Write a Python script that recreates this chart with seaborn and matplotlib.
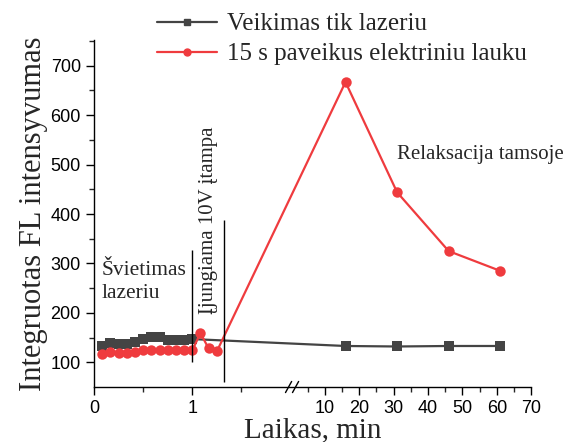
import numpy as np
import pandas as pd
import matplotlib
matplotlib.use("Agg")
import matplotlib.pyplot as plt
from matplotlib.lines import Line2D
import seaborn as sns

# data (time in minutes)
t_laser = [5/60, 10/60, 15/60, 20/60, 25/60, 30/60, 35/60, 40/60, 45/60, 50/60, 55/60, 1.0,
           16, 31, 46, 61]
fl_laser = [133, 139, 137, 138, 142, 148, 151, 151, 146, 145, 146, 147,
            133, 132, 133, 133]

t_field = [5/60, 10/60, 15/60, 20/60, 25/60, 30/60, 35/60, 40/60, 45/60, 50/60, 55/60, 1.0,
           65/60, 70/60, 75/60, 16, 31, 46, 61]
fl_field = [117, 121, 119, 119, 121, 124, 124, 124, 124, 124, 124, 124,
            159, 128, 122, 667, 444, 325, 285]

label_laser = "Veikimas tik lazeriu"
label_field = "15 s paveikus elektriniu lauku"

x_major = [0, 1, 10, 20, 30, 40, 50, 60, 70]
x_minor = [0.5, 1.5, 5, 15, 25, 35, 45, 55, 65]
y_major = [100, 200, 300, 400, 500, 600, 700]
y_minor = [150, 250, 350, 450, 550, 650, 750]

t_light_on = 1.0
t_voltage = 1.32

df = pd.concat([
    pd.DataFrame({"t": t_laser, "fl": fl_laser, "serija": label_laser}),
    pd.DataFrame({"t": t_field, "fl": fl_field, "serija": label_field}),
])

sns.set_style("ticks")
plt.rcParams["font.family"] = ["Liberation Sans", "DejaVu Sans"]
serif = ["Liberation Serif", "DejaVu Serif"]

# broken x axis: 0..2 linear, then 10..70 compressed
BREAK, JUMP, K = 2.0, 2.07, 0.035


def fwd(t):
    t = np.asarray(t, dtype=float)
    return np.where(t <= BREAK, t, JUMP + K * (t - BREAK))


def inv(u):
    u = np.asarray(u, dtype=float)
    return np.where(u <= BREAK, u,
                    np.where(u < JUMP, BREAK, BREAK + (u - JUMP) / K))


fig = plt.figure(figsize=(5.81, 4.42), dpi=100)
ax = fig.add_axes([0.1618, 0.1244, 0.7525, 0.785])
ax.set_xscale("function", functions=(fwd, inv))

palette = {label_laser: "#444444", label_field: "#ef3b3e"}
sns.lineplot(data=df, x="t", y="fl", hue="serija", style="serija",
             markers={label_laser: "s", label_field: "o"}, dashes=False,
             palette=palette, estimator=None, sort=False, linewidth=1.6,
             markersize=7.5, markeredgewidth=0, ax=ax, legend=False)

ax.set_xlim(0, 70)
ax.set_ylim(50, 752)
ax.set_xticks(x_major)
ax.set_xticklabels([str(v) for v in x_major])
ax.set_xticks(x_minor, minor=True)
ax.set_yticks(y_major)
ax.set_yticks(y_minor, minor=True)
ax.tick_params(which="major", direction="out", length=6, width=1, labelsize=13, colors="black")
ax.tick_params(which="minor", direction="out", length=3.5, width=1)
sns.despine(ax=ax)
for s in ("left", "bottom"):
    ax.spines[s].set_linewidth(1.0)
    ax.spines[s].set_color("black")

ax.set_xlabel("Laikas, min", family=serif, fontsize=21, labelpad=0)
ax.set_ylabel("Integruotas FL intensyvumas", family=serif, fontsize=22, labelpad=2)

# break marks
for xb in (0.445, 0.461):
    ax.plot([xb - 0.007, xb + 0.007], [-0.016, 0.016], transform=ax.transAxes,
            color="black", lw=1.0, clip_on=False)

# event lines and labels
ax.vlines(t_light_on, 100, 327, color="black", lw=1.0)
ax.vlines(t_voltage, 60, 387, color="black", lw=1.0)
ax.text(0.08, 262, "Švietimas\nlazeriu", family=serif, fontsize=15.5,
        ha="left", va="center", linespacing=1.25)
ax.text(1.165, 388, "Įjungiama 10V įtampa", family=serif, fontsize=15,
        rotation=90, ha="center", va="center")
ax.text(31, 520, "Relaksacija tamsoje", family=serif, fontsize=15,
        ha="left", va="center")

# legend
handles = [
    Line2D([], [], color=palette[label_laser], marker="s", markersize=5, lw=1.6),
    Line2D([], [], color=palette[label_field], marker="o", markersize=5, lw=1.6),
]
fig.legend(handles, [label_laser, label_field], loc="upper left",
           bbox_to_anchor=(0.232, 1.022), frameon=False, handlelength=2.4,
           handletextpad=0.4, labelspacing=0.3, prop={"family": serif, "size": 18})

fig.savefig("out.png", dpi=100)
